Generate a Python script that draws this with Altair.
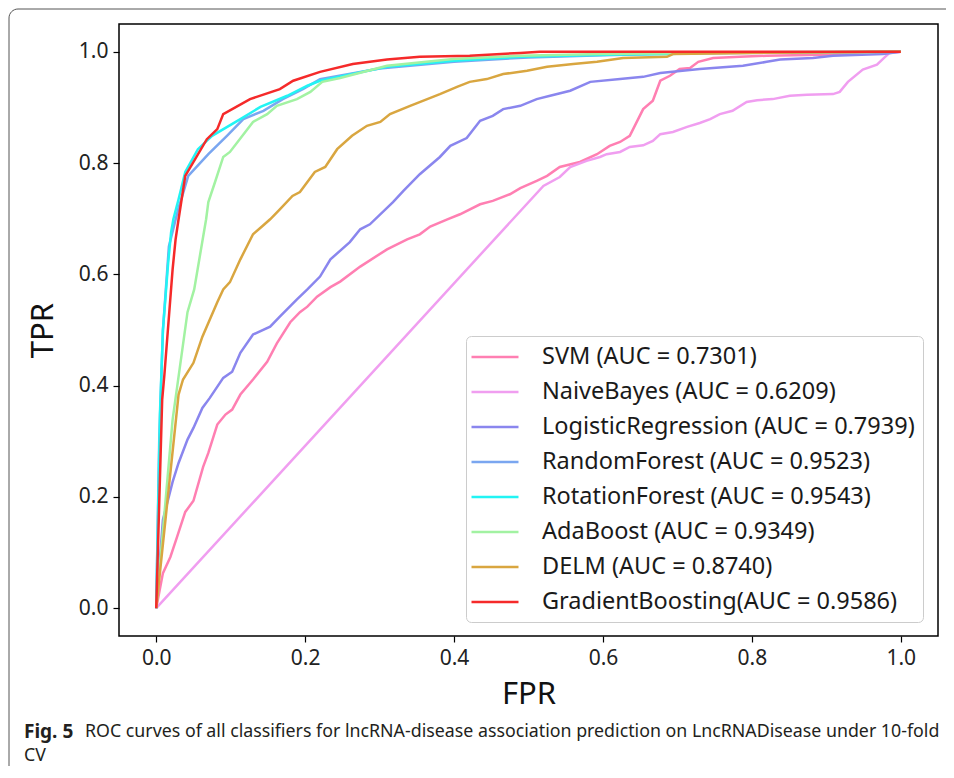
import altair as alt
import pandas as pd

names = [
    "SVM (AUC = 0.7301)",
    "NaiveBayes (AUC = 0.6209)",
    "LogisticRegression (AUC = 0.7939)",
    "RandomForest (AUC = 0.9523)",
    "RotationForest (AUC = 0.9543)",
    "AdaBoost (AUC = 0.9349)",
    "DELM (AUC = 0.8740)",
    "GradientBoosting(AUC = 0.9586)",
]
colors = ["#ff7fb2", "#f09ef0", "#8a86ee", "#7aa6f0", "#22f4f4", "#a2f2a2", "#d9a640", "#f52a2a"]

svm_fpr = [0, 0.009, 0.019, 0.028, 0.039, 0.05, 0.063, 0.07, 0.082, 0.093, 0.102, 0.113, 0.13, 0.149, 0.162, 0.18,
           0.193, 0.203, 0.216, 0.234, 0.247, 0.274, 0.31, 0.337, 0.354, 0.368, 0.391, 0.408, 0.435, 0.452, 0.475,
           0.489, 0.511, 0.525, 0.542, 0.569, 0.592, 0.609, 0.623, 0.636, 0.654, 0.667, 0.677, 0.69, 0.703, 0.717,
           0.728, 0.748, 0.784, 0.82, 0.909, 0.958, 1.0]
svm_tpr = [0, 0.063, 0.092, 0.128, 0.173, 0.193, 0.254, 0.279, 0.33, 0.348, 0.357, 0.384, 0.411, 0.443, 0.476, 0.514,
           0.532, 0.542, 0.56, 0.577, 0.587, 0.614, 0.645, 0.663, 0.672, 0.686, 0.699, 0.708, 0.726, 0.732, 0.744,
           0.755, 0.768, 0.777, 0.793, 0.802, 0.816, 0.831, 0.838, 0.849, 0.897, 0.912, 0.948, 0.957, 0.969, 0.971,
           0.982, 0.989, 0.991, 0.993, 0.995, 1.0, 1.0]

nb_fpr = [0, 0.52, 0.542, 0.556, 0.578, 0.596, 0.605, 0.623, 0.636, 0.654, 0.667, 0.677, 0.694, 0.713, 0.73, 0.744,
          0.757, 0.774, 0.793, 0.807, 0.828, 0.851, 0.874, 0.909, 0.918, 0.929, 0.949, 0.968, 0.979, 0.985, 1.0]
nb_tpr = [0, 0.759, 0.775, 0.793, 0.804, 0.811, 0.816, 0.82, 0.829, 0.832, 0.84, 0.852, 0.856, 0.865, 0.872, 0.879,
          0.888, 0.894, 0.91, 0.913, 0.915, 0.921, 0.923, 0.924, 0.928, 0.946, 0.968, 0.977, 0.991, 0.998, 1.0]

lr_fpr = [0, 0.009, 0.022, 0.03, 0.042, 0.05, 0.062, 0.072, 0.09, 0.102, 0.113, 0.13, 0.153, 0.166, 0.189, 0.203,
          0.22, 0.234, 0.26, 0.274, 0.287, 0.318, 0.332, 0.354, 0.381, 0.395, 0.417, 0.435, 0.452, 0.466, 0.489,
          0.511, 0.529, 0.556, 0.583, 0.623, 0.654, 0.677, 0.73, 0.788, 0.82, 0.838, 0.882, 0.909, 0.976, 1.0]
lr_tpr = [0, 0.159, 0.227, 0.261, 0.303, 0.324, 0.36, 0.378, 0.414, 0.425, 0.459, 0.492, 0.506, 0.524, 0.555, 0.573,
          0.596, 0.627, 0.658, 0.681, 0.69, 0.73, 0.75, 0.78, 0.811, 0.831, 0.845, 0.876, 0.885, 0.897, 0.903,
          0.915, 0.921, 0.93, 0.946, 0.951, 0.955, 0.962, 0.969, 0.975, 0.982, 0.986, 0.989, 0.993, 0.996, 1.0]

rf_fpr = [0, 0.004, 0.009, 0.017, 0.03, 0.035, 0.043, 0.07, 0.095, 0.117, 0.144, 0.17, 0.197, 0.22, 0.3, 0.4, 0.5,
          0.6, 0.7, 1.0]
rf_tpr = [0, 0.3, 0.5, 0.65, 0.72, 0.741, 0.777, 0.816, 0.849, 0.879, 0.894, 0.915, 0.933, 0.951, 0.97, 0.982, 0.99,
          0.994, 0.997, 1.0]

rot_fpr = [0, 0.005, 0.009, 0.016, 0.02, 0.023, 0.03, 0.039, 0.056, 0.075, 0.113, 0.14, 0.176, 0.203, 0.22, 0.31,
           0.399, 0.489, 0.623, 0.69, 0.757, 1.0]
rot_tpr = [0, 0.35, 0.5, 0.62, 0.676, 0.699, 0.735, 0.784, 0.825, 0.849, 0.879, 0.901, 0.921, 0.939, 0.948, 0.973,
           0.984, 0.991, 0.995, 0.996, 0.999, 1.0]

ada_fpr = [0, 0.022, 0.042, 0.051, 0.067, 0.07, 0.079, 0.09, 0.099, 0.13, 0.149, 0.162, 0.189, 0.207, 0.223, 0.247,
           0.31, 0.399, 0.489, 0.596, 0.73, 1.0]
ada_tpr = [0, 0.339, 0.532, 0.573, 0.699, 0.73, 0.766, 0.811, 0.82, 0.874, 0.888, 0.903, 0.915, 0.928, 0.946, 0.953,
           0.975, 0.987, 0.993, 0.996, 0.998, 1.0]

delm_fpr = [0, 0.03, 0.036, 0.05, 0.062, 0.082, 0.09, 0.099, 0.113, 0.13, 0.142, 0.153, 0.166, 0.183, 0.193, 0.213,
            0.227, 0.243, 0.263, 0.283, 0.301, 0.314, 0.341, 0.364, 0.381, 0.404, 0.421, 0.444, 0.466, 0.498, 0.525,
            0.56, 0.592, 0.627, 0.686, 0.694, 0.797, 1.0]
delm_tpr = [0, 0.384, 0.411, 0.441, 0.488, 0.55, 0.573, 0.586, 0.627, 0.672, 0.686, 0.699, 0.717, 0.741, 0.748, 0.784,
            0.793, 0.825, 0.849, 0.867, 0.874, 0.888, 0.903, 0.915, 0.924, 0.937, 0.946, 0.951, 0.96, 0.966, 0.973,
            0.978, 0.982, 0.989, 0.991, 0.996, 0.998, 1.0]

gb_fpr = [0, 0.008, 0.011, 0.022, 0.026, 0.03, 0.039, 0.068, 0.082, 0.09, 0.126, 0.166, 0.184, 0.22, 0.264, 0.31,
          0.354, 0.421, 0.489, 0.515, 1.0]
gb_tpr = [0, 0.375, 0.42, 0.609, 0.663, 0.699, 0.777, 0.843, 0.861, 0.888, 0.915, 0.933, 0.948, 0.964, 0.978, 0.986,
          0.991, 0.993, 0.998, 1.0, 1.0]

caption_bold = ["Fig. 5"]
caption_line1 = ["ROC curves of all classifiers for lncRNA-disease association prediction on LncRNADisease under 10-fold"]
caption_line2 = ["CV"]

series = [
    (names[0], svm_fpr, svm_tpr),
    (names[1], nb_fpr, nb_tpr),
    (names[2], lr_fpr, lr_tpr),
    (names[3], rf_fpr, rf_tpr),
    (names[4], rot_fpr, rot_tpr),
    (names[5], ada_fpr, ada_tpr),
    (names[6], delm_fpr, delm_tpr),
    (names[7], gb_fpr, gb_tpr),
]
rows = []
for name, fx, ty in series:
    for i, (a, b) in enumerate(zip(fx, ty)):
        rows.append({"model": name, "fpr": a, "tpr": b, "i": i})
df = pd.DataFrame(rows)

FONT = "Noto Sans"
ticks = [0.0, 0.2, 0.4, 0.6, 0.8, 1.0]
xs = alt.Scale(domain=[-0.05, 1.05], nice=False, zero=False)
ys = alt.Scale(domain=[-0.05, 1.05], nice=False, zero=False)
common_axis = dict(values=ticks, format=".1f", grid=False, domain=False, tickSize=6, tickColor="black",
                   tickWidth=1.2, labelFont=FONT, labelFontSize=21, labelColor="#222222",
                   titleFont=FONT, titleFontSize=31, titleFontWeight="normal", titleColor="#111111")
xaxis = alt.Axis(title="FPR", labelPadding=5, titlePadding=11, **common_axis)
yaxis = alt.Axis(title="TPR", labelPadding=5, titlePadding=19, **common_axis)

legend = alt.Legend(title=None, orient="none", legendX=347, legendY=312,
                    symbolType="M-2,0H2", symbolSize=552, symbolStrokeWidth=2.5,
                    labelFont=FONT, labelFontSize=23.5, labelColor="#1a1a1a", labelLimit=0,
                    padding=8, rowPadding=10, symbolOffset=8, labelOffset=34,
                    strokeColor="#cccccc", fillColor="white", cornerRadius=5)
color = alt.Color("model:N", scale=alt.Scale(domain=names, range=colors), sort=names, legend=legend)

layers = []
# outer figure box
box = alt.Chart(pd.DataFrame({"a": [0]})).mark_rect(
    fill=None, stroke="#555555", strokeWidth=1, cornerRadius=9
).encode(x=alt.value(-110), x2=alt.value(900), y=alt.value(-15), y2=alt.value(800))
layers.append(box)

for name in names:
    layers.append(
        alt.Chart(df).transform_filter(alt.datum.model == name).mark_line(strokeWidth=2.5).encode(
            x=alt.X("fpr:Q", scale=xs, axis=xaxis),
            y=alt.Y("tpr:Q", scale=ys, axis=yaxis),
            color=color,
            order="i:Q",
        )
    )

cap_b = alt.Chart(pd.DataFrame({"t": caption_bold})).mark_text(
    font=FONT, fontSize=19, fontWeight="bold", align="left", baseline="middle", color="#231f20"
).encode(text="t:N", x=alt.value(-95), y=alt.value(708))
cap_1 = alt.Chart(pd.DataFrame({"t": caption_line1})).mark_text(
    font=FONT, fontSize=17.8, align="left", baseline="middle", color="#231f20"
).encode(text="t:N", x=alt.value(-34), y=alt.value(708))
cap_2 = alt.Chart(pd.DataFrame({"t": caption_line2})).mark_text(
    font=FONT, fontSize=17.8, align="left", baseline="middle", color="#231f20"
).encode(text="t:N", x=alt.value(-95), y=alt.value(732))
layers += [cap_b, cap_1, cap_2]

chart = alt.layer(*layers).properties(
    width=819, height=612,
    autosize=alt.AutoSizeParams(type="none"),
    padding={"left": 111, "top": 16, "right": 8, "bottom": 130},
).configure_view(stroke="black", strokeWidth=1.5)

chart.save("out.html", embed_options={"renderer": "svg", "actions": False})
